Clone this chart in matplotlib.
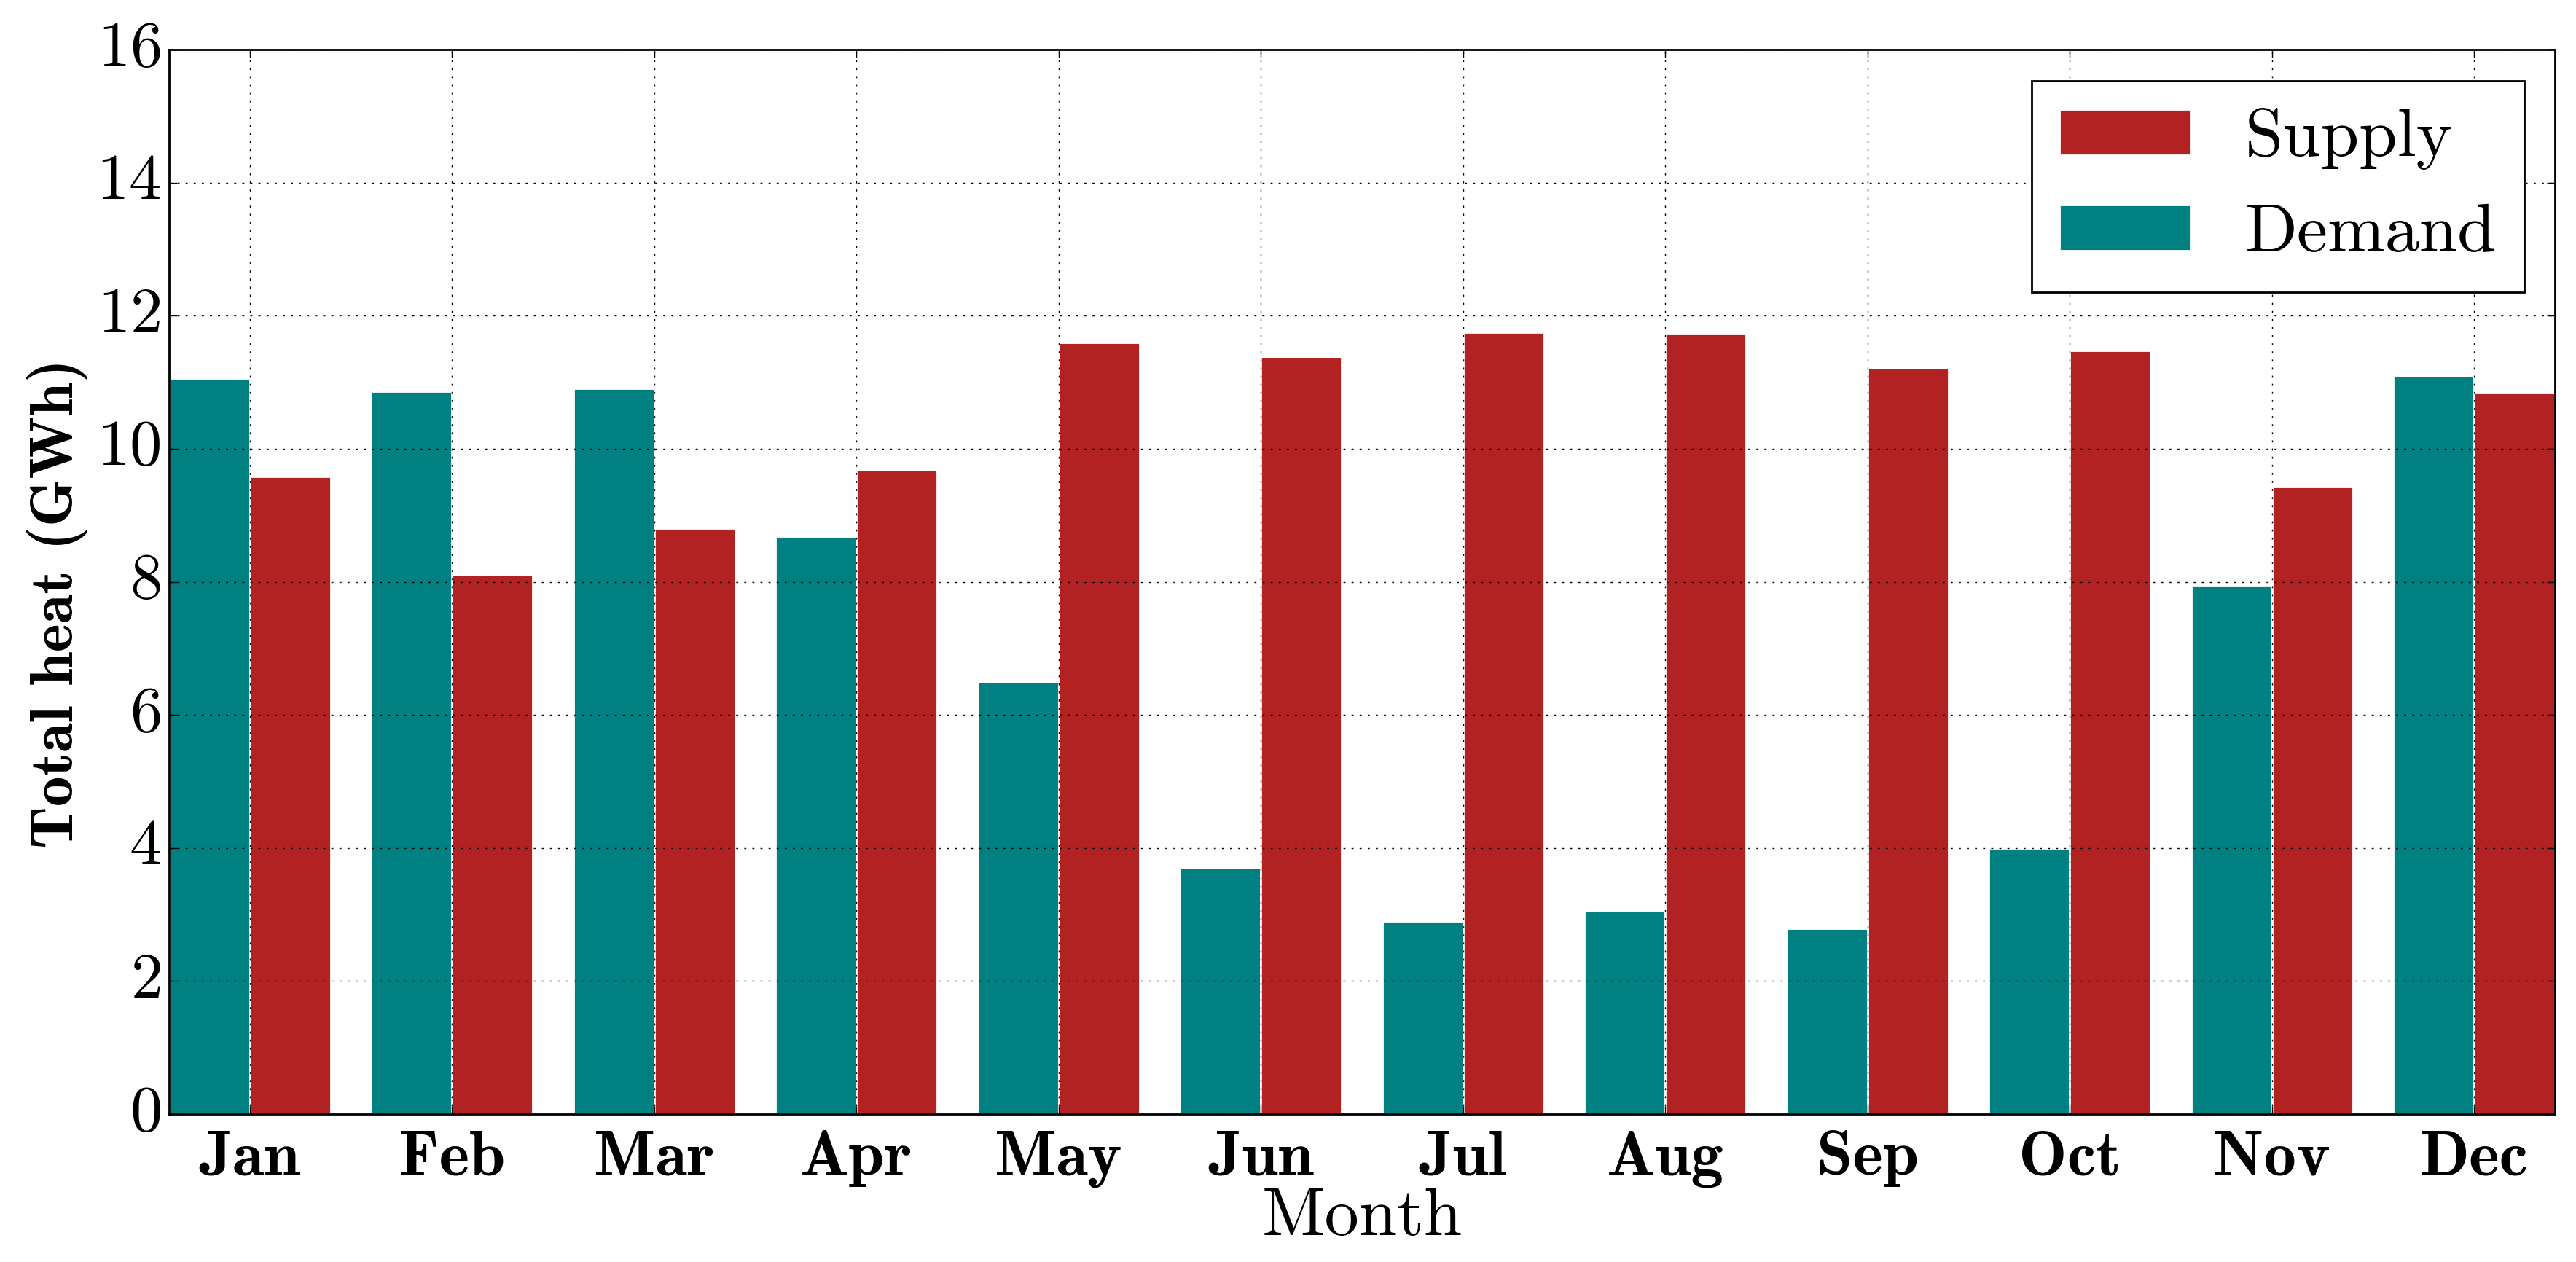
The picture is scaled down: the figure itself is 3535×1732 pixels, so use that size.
import numpy as np
import matplotlib
matplotlib.use('Agg')
import matplotlib.pyplot as plt

months = ['Jan','Feb','Mar','Apr','May','Jun','Jul','Aug','Sep','Oct','Nov','Dec']
demand = [11.06, 10.86, 10.91, 8.69, 6.49, 3.70, 2.89, 3.06, 2.79, 4.00, 7.95, 11.09]
supply = [9.58, 8.10, 8.81, 9.68, 11.60, 11.38, 11.75, 11.73, 11.21, 11.48, 9.43, 10.84]

plt.style.use('classic')
plt.rcParams['font.family'] = 'cmr10'
plt.rcParams['axes.formatter.use_mathtext'] = True
plt.rcParams['figure.facecolor'] = 'white'

fig = plt.figure(figsize=(17.675, 8.66), dpi=200)
ax = fig.add_axes([0.0656, 0.1172, 0.9262, 0.8435])

x = np.arange(len(months))
w = 0.4
ax.bar(x - w, demand, w, align='edge', color='#008080', edgecolor='white', linewidth=1, label='Demand')
ax.bar(x, supply, w, align='edge', color='#b22222', edgecolor='white', linewidth=1, label='Supply')

ax.set_xlim(-w, len(months) - 1 + w)
ax.set_ylim(0, 16)
ax.set_xticks(x)
ax.set_xticklabels(months, family='cmb10', fontsize=32)
ax.tick_params(axis='y', labelsize=32)
ax.tick_params(axis='x', pad=8)
ax.set_xlabel('Month', fontsize=34, labelpad=0)
ax.set_ylabel('Total heat (GWh)', family='cmb10', fontsize=30, labelpad=4)
ax.yaxis.label.set_y(0.48)
ax.grid(True)
ax.set_axisbelow(False)

h, l = ax.get_legend_handles_labels()
ax.legend(h[::-1], l[::-1], loc='upper right', fontsize=34, handlelength=1.9, handleheight=0.65,
          borderaxespad=0.45)

fig.savefig('out.png', dpi=200, facecolor='white')
